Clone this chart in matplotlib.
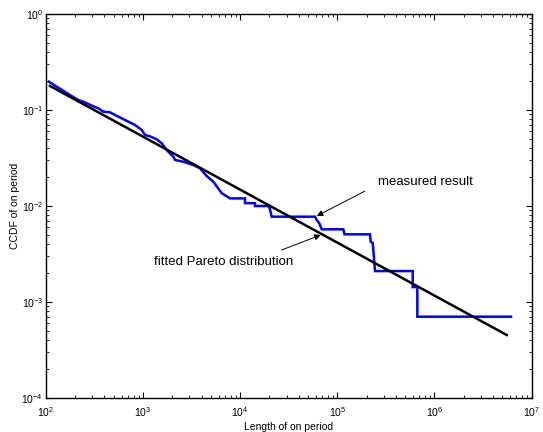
import matplotlib
matplotlib.use("Agg")
import matplotlib.pyplot as plt

plt.rcParams['font.family'] = ['Liberation Sans', 'DejaVu Sans']
plt.rcParams['mathtext.default'] = 'regular'

# measured CCDF (step-like curve)
meas_x = [107, 177, 215, 252, 296, 346, 389, 456, 514, 651, 826, 968, 1047, 1178,
          1380, 1555, 1750, 2047, 2132, 2596, 3289, 3855, 4519, 5285, 6446, 7850,
          11200, 11200, 14200, 14200, 19450, 20270, 21100, 58900, 61400, 65300,
          69100, 115300, 118600, 217000, 220800, 231500, 235000, 244500, 598000,
          598000, 667000, 667000, 6.15e6]
meas_y = [0.197, 0.143, 0.127, 0.120, 0.111, 0.104, 0.096, 0.0947, 0.0887, 0.0787,
          0.0698, 0.0619, 0.0549, 0.0532, 0.0495, 0.0450, 0.0383, 0.0326, 0.0302,
          0.0289, 0.0267, 0.0247, 0.0205, 0.0179, 0.0136, 0.0120, 0.0120, 0.0107,
          0.0107, 0.0100, 0.0100, 0.00924, 0.00774, 0.00774, 0.00715, 0.00660,
          0.00572, 0.00572, 0.00507, 0.00507, 0.00425, 0.00412, 0.00348, 0.00210,
          0.00210, 0.00143, 0.00143, 0.000703, 0.000703]

# fitted Pareto line end points
fit_x = [110, 5.56e6]
fit_y = [0.178, 4.53e-4]

fig = plt.figure(figsize=(5.43, 4.32), dpi=100)
ax = fig.add_axes([46 / 543, 34 / 432, 485.5 / 543, 384 / 432])

ax.plot(meas_x, meas_y, color='#0000ff', lw=1.8, solid_joinstyle='miter')
ax.plot(fit_x, fit_y, color='black', lw=1.8)

ax.set_xscale('log')
ax.set_yscale('log')
ax.set_xlim(1e2, 1e7)
ax.set_ylim(1e-4, 1e0)

ax.tick_params(which='both', direction='in', top=True, right=True, labelsize=7.5)
ax.tick_params(axis='x', pad=5)
ax.tick_params(axis='y', pad=2)
ax.tick_params(which='major', length=4, width=0.8)
ax.tick_params(which='minor', length=2, width=0.6)
for s in ax.spines.values():
    s.set_linewidth(1.0)

ax.set_xlabel('Length of on period', fontsize=7.5, labelpad=2)
ax.set_ylabel('CCDF of on period', fontsize=7.5, labelpad=1)

arrow = dict(arrowstyle='-|>', color='black', lw=0.7, mutation_scale=9,
             shrinkA=0, shrinkB=0)
ax.annotate('', xy=(61400, 0.00787), xytext=(192700, 0.0143), arrowprops=arrow)
ax.text(262000, 0.0179, 'measured result', fontsize=9.5, va='center', ha='left')

ax.annotate('', xy=(67500, 0.00499), xytext=(26700, 0.00348), arrowprops=arrow)
ax.text(35000, 0.00261, 'fitted Pareto distribution', fontsize=9.5,
        va='center', ha='right')

fig.savefig('out.png', dpi=100)
